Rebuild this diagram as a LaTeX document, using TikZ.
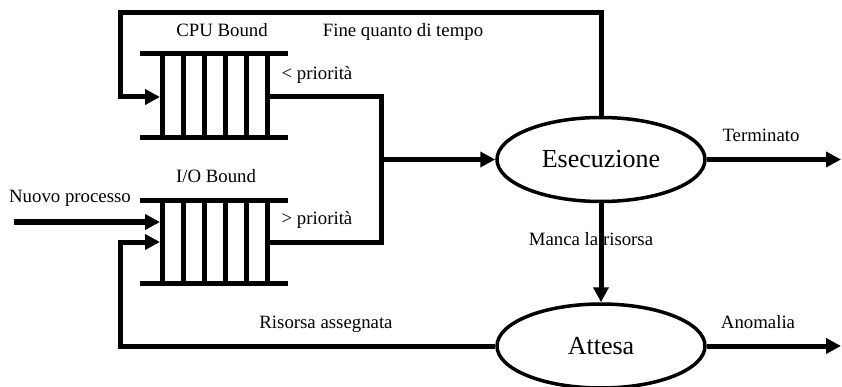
\documentclass[tikz,border=0pt]{standalone}
\usepackage{fontspec}
\setmainfont{Liberation Serif}
\usetikzlibrary{arrows.meta,shapes.geometric}
\begin{document}
\begin{tikzpicture}[x=1pt,y=-1pt,
  conn/.style={line width=5pt},
  arr/.style={conn,-{Triangle[length=15pt,width=15pt]}},
  qline/.style={line width=5pt},
  state/.style={ellipse,draw,line width=3.5pt,minimum width=208pt,minimum height=84pt,inner sep=0pt,font=\fontsize{26}{29}\selectfont},
  lbl/.style={inner sep=0pt,anchor=base,font=\fontsize{18.8}{21}\selectfont}]
\useasboundingbox (0,0) rectangle (842,387);
% states
\node[state] (exe) at (601,159.5) {Esecuzione};
\node[state] (att) at (601,346) {Attesa};
% coordinates
\coordinate (cpuin) at (160,97);
\coordinate (ioin1) at (160,222);
\coordinate (ioin2) at (160,242);
\coordinate (join) at (381,159.5);
\coordinate (start) at (14,222);
\coordinate (term) at (841,159.5);
\coordinate (anom) at (841,346);
% queues
\foreach \ya/\yb in {54/138, 201/283}{
  \draw[qline] (140,\ya) -- (288,\ya);
  \draw[qline] (140,\yb) -- (288,\yb);
  \foreach \x in {162,183,204,225,246,267}
    \draw[qline] (\x,\ya) -- (\x,\yb);
}
% labels
\node[lbl] (lcpu) at (222,37) {CPU Bound};
\node[lbl] (lfine) at (403,37) {Fine quanto di tempo};
\node[lbl] (llow) at (317,80) {< priorità};
\node[lbl] (lio) at (216,183) {I/O Bound};
\node[lbl] (lnew) at (70,203) {Nuovo processo};
\node[lbl] (lhigh) at (317,224) {> priorità};
\node[lbl] (lris) at (326,328) {Risorsa assegnata};
\node[lbl] (lterm) at (761,142) {Terminato};
\node[lbl] (lmanca) at (591,245) {Manca la risorsa};
\node[lbl] (lanom) at (758,328) {Anomalia};
% connectors
\draw[arr] (exe.north) -- (601,13) -| (120,97) -- (cpuin);
\draw[conn] (267,97) -| (381,242) -- (267,242);
\draw[arr] (join) -- (exe.west);
\draw[arr] (start) -- (ioin1);
\draw[arr] (att.west) -| (120,242) -- (ioin2);
\draw[arr] (exe.south) -- (att.north);
\draw[arr] (exe.east) -- (term);
\draw[arr] (att.east) -- (anom);
\end{tikzpicture}
\end{document}
